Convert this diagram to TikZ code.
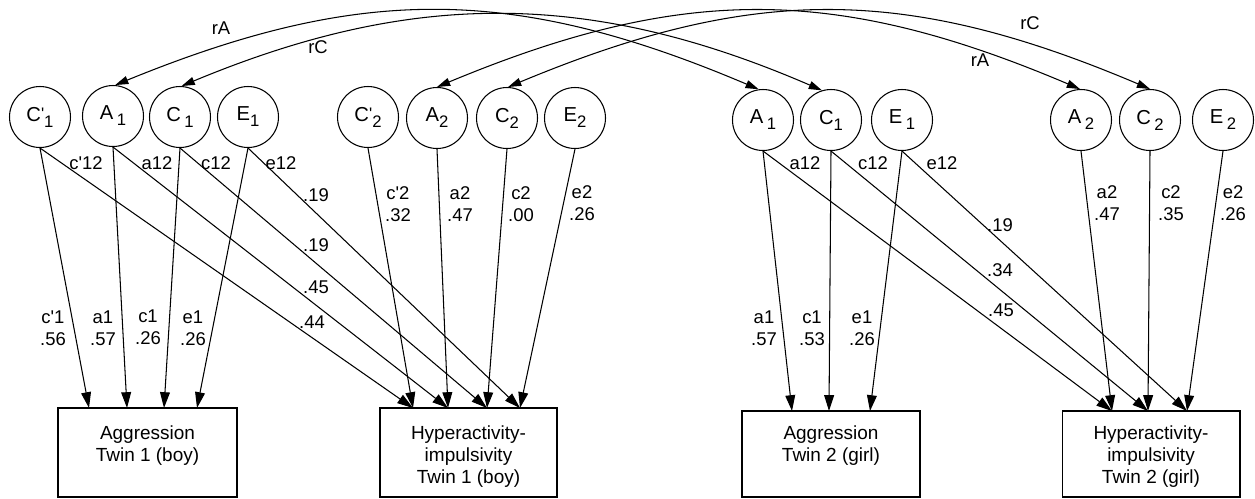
\documentclass[tikz,border=0pt]{standalone}
\usepackage{fontspec}
\setmainfont{Liberation Sans}
\usetikzlibrary{arrows.meta}
\newcommand{\lsub}[1]{\raisebox{-3.4pt}{\fontsize{9.5}{9.5}\selectfont #1}}
\newcommand{\lpr}{\raisebox{0.8pt}{\fontsize{9.5}{9.5}\selectfont\textquotesingle}}
\tikzset{
  lat/.style={circle, draw, line width=0.6pt, minimum size=1.22cm, inner sep=0pt, font=\fontsize{11.5}{11.5}\selectfont},
  obs/.style={rectangle, draw, line width=0.6pt, inner sep=0pt},
  btxt/.style={align=center, font=\fontsize{10.8}{12.5}\selectfont, inner sep=0pt},
  lbl/.style={align=center, font=\fontsize{10.5}{12.5}\selectfont, inner sep=0pt},
  pth/.style={-{Triangle[length=9pt,width=5.6pt]}, line width=0.6pt},
  cor/.style={{Triangle[length=7.5pt,width=4.6pt]}-{Triangle[length=7.5pt,width=4.6pt]}, line width=0.6pt}
}
\begin{document}
\begin{tikzpicture}[x=0.02cm,y=-0.02cm]
\useasboundingbox (0,0) rectangle (1255,498);
% latent variables twin 1
\node[lat] (cpa) at (40,117) {C\lpr\lsub{1}};
\node[lat] (a1a) at (113,116) {A\,\lsub{1}};
\node[lat] (c1a) at (180,117) {C\,\lsub{1}};
\node[lat] (e1a) at (248,117) {E\lsub{1}};
\node[lat] (cpb) at (368,117) {C\lpr\lsub{2}};
\node[lat] (a2a) at (437,118) {A\lsub{2}};
\node[lat] (c2a) at (507,118) {C\lsub{2}};
\node[lat] (e2a) at (575,118) {E\lsub{2}};
% latent variables twin 2
\node[lat] (a1b) at (763,120) {A\,\lsub{1}};
\node[lat] (c1b) at (831,120) {C\lsub{1}};
\node[lat] (e1b) at (902,120) {E\,\lsub{1}};
\node[lat] (a2b) at (1081,120) {A\,\lsub{2}};
\node[lat] (c2b) at (1150,120) {C\,\lsub{2}};
\node[lat] (e2b) at (1223,120) {E\,\lsub{2}};
% observed
\node[obs, minimum width=3.58cm, minimum height=1.78cm] (ag1) at (147.5,452.5) {};
\node[obs, minimum width=3.54cm, minimum height=1.78cm] (hy1) at (468.5,452.5) {};
\node[obs, minimum width=3.56cm, minimum height=1.72cm] (ag2) at (831,454) {};
\node[obs, minimum width=3.56cm, minimum height=1.72cm] (hy2) at (1151,454) {};
\node[btxt] (ag1t) at (147.5,446) {Aggression\\Twin 1 (boy)};
\node[btxt] (hy1t) at (468.5,457) {Hyperactivity-\\impulsivity\\Twin 1 (boy)};
\node[btxt] (ag2t) at (831,446) {Aggression\\Twin 2 (girl)};
\node[btxt] (hy2t) at (1151,457) {Hyperactivity-\\impulsivity\\Twin 2 (girl)};
% arrow targets
\coordinate (t11) at (89,408);
\coordinate (t12) at (127,408);
\coordinate (t13) at (164,408);
\coordinate (t14) at (197,408);
\coordinate (t21) at (413,408);
\coordinate (t22) at (448,408);
\coordinate (t23) at (487,408);
\coordinate (t24) at (520,408);
\coordinate (u11) at (792,411);
\coordinate (u12) at (829,411);
\coordinate (u13) at (870,411);
\coordinate (u21) at (1112,411);
\coordinate (u22) at (1148,411);
\coordinate (u23) at (1187,411);
% paths twin 1
\draw[pth] (cpa.south) -- (t11);
\draw[pth] (a1a.south) -- (t12);
\draw[pth] (c1a.south) -- (t13);
\draw[pth] (e1a.south) -- (t14);
\draw[pth] (cpa.south) -- (t21);
\draw[pth] (a1a.south) -- (t22);
\draw[pth] (c1a.south) -- (t23);
\draw[pth] (e1a.south) -- (t24);
\draw[pth] (cpb.south) -- (t21);
\draw[pth] (a2a.south) -- (t22);
\draw[pth] (c2a.south) -- (t23);
\draw[pth] (e2a.south) -- (t24);
% paths twin 2
\draw[pth] (a1b.south) -- (u11);
\draw[pth] (c1b.south) -- (u12);
\draw[pth] (e1b.south) -- (u13);
\draw[pth] (a1b.south) -- (u21);
\draw[pth] (c1b.south) -- (u22);
\draw[pth] (e1b.south) -- (u23);
\draw[pth] (a2b.south) -- (u21);
\draw[pth] (c2b.south) -- (u22);
\draw[pth] (e2b.south) -- (u23);
% correlations
\draw[cor] (a1a.86) .. controls (360,-15) and (513,-15) .. (a1b.98);
\draw[cor] (c1a.87) .. controls (412,-10) and (590,-10) .. (c1b.107);
\draw[cor] (a2a.90) .. controls (682,-15) and (835,-15) .. (a2b.92);
\draw[cor] (c2a.88) .. controls (753,-15) and (905,-15) .. (c2b.90);
\node[lbl] (rA1) at (221,28) {rA};
\node[lbl] (rC1) at (318,47) {rC};
\node[lbl] (rC2) at (1030,23) {rC};
\node[lbl] (rA2) at (980,60) {rA};
% labels twin 1
\node[lbl] (l1) at (53,328) {c\textquotesingle1\\.56};
\node[lbl] (l2) at (103,328) {a1\\.57};
\node[lbl] (l3) at (148,327) {c1\\.26};
\node[lbl] (l4) at (193,328) {e1\\.26};
\node[lbl] (l5) at (86,163) {c\textquotesingle12};
\node[lbl] (l6) at (157,163) {a12};
\node[lbl] (l7) at (216,163) {c12};
\node[lbl] (l8) at (281,163) {e12};
\node[lbl] (l9) at (316,195) {.19};
\node[lbl] (l10) at (316,245) {.19};
\node[lbl] (l11) at (316,287) {.45};
\node[lbl] (l12) at (312,322) {.44};
\node[lbl] (l13) at (398,204) {c\textquotesingle2\\.32};
\node[lbl] (l14) at (460,204) {a2\\.47};
\node[lbl] (l15) at (521,204) {c2\\.00};
\node[lbl] (l16) at (582,203) {e2\\.26};
% labels twin 2
\node[lbl] (m1) at (764,328) {a1\\.57};
\node[lbl] (m2) at (812,328) {c1\\.53};
\node[lbl] (m3) at (862,328) {e1\\.26};
\node[lbl] (m4) at (805,163) {a12};
\node[lbl] (m5) at (873,163) {c12};
\node[lbl] (m6) at (942,163) {e12};
\node[lbl] (m7) at (1000,225) {.19};
\node[lbl] (m8) at (1000,270) {.34};
\node[lbl] (m9) at (1001,310) {.45};
\node[lbl] (m10) at (1107,203) {a2\\.47};
\node[lbl] (m11) at (1171,203) {c2\\.35};
\node[lbl] (m12) at (1233,203) {e2\\.26};
\end{tikzpicture}
\end{document}
